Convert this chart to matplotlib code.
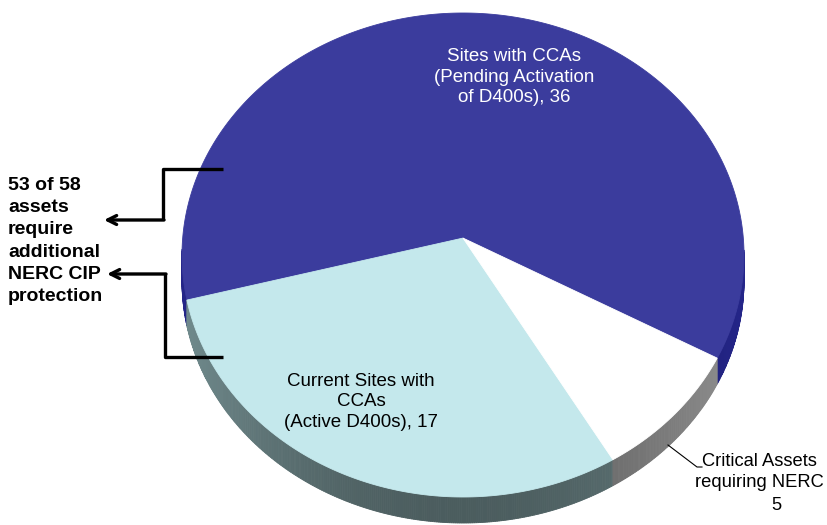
import numpy as np
import matplotlib
matplotlib.use("Agg")
import matplotlib.pyplot as plt
from matplotlib.patches import Polygon
import matplotlib.colors as mcolors

# ---- data ----
values = [36, 17, 5]
labels = ["Sites with CCAs\n(Pending Activation\nof D400s)",
          "Current Sites with\nCCAs\n(Active D400s)",
          "Critical Assets\nrequiring NERC"]
colors = ["#3b3c9d", "#c4e8ec", "#ffffff"]
side_colors = ["#1e1f72", "#5e7476", "#7a7a7a"]
callout_text = "53 of 58\nassets\nrequire\nadditional\nNERC CIP\nprotection"

plt.rcParams['font.family'] = ['Liberation Sans', 'DejaVu Sans']

W, H = 828, 525
fig = plt.figure(figsize=(W / 100, H / 100), dpi=100)

# ---- pie axes (elliptical top face, slight perspective) ----
left, right, top, bottom = 182, 744, 13, 497
ax = fig.add_axes([left / W, 1 - bottom / H, (right - left) / W, (bottom - top) / H])
startangle = 331.2
persp = 0.07
thick = 26 / ((bottom - top) / 2)

def project(phi_deg):
    p = np.radians(phi_deg)
    x, y = np.cos(p), np.sin(p)
    d = 1 + persp * y
    u, v = x / d, y / d
    return u * np.sqrt(1 - persp ** 2), v * (1 - persp ** 2) + persp

apex = (0.0, persp)
total = float(sum(values))
edges = startangle + 360.0 * np.concatenate([[0], np.cumsum(values)]) / total

def shade(c, t):
    r, g, b = mcolors.to_rgb(c)
    f = 1.0 + 0.2 * np.cos(np.radians(2 * (t - 180)))
    return tuple(min(1, x * f) for x in (r, g, b))

# side band
for i in range(len(values)):
    phis = np.linspace(edges[i], edges[i + 1], int((edges[i + 1] - edges[i]) / 0.4) + 2)
    U, V = project(phis)
    for j in range(len(phis) - 1):
        if min(V[j], V[j + 1]) > 0.02:
            continue
        pts = [(U[j], V[j]), (U[j + 1], V[j + 1]),
               (U[j + 1], V[j + 1] - thick), (U[j], V[j] - thick)]
        t = np.degrees(np.arctan2((V[j] + V[j + 1]) / 2, (U[j] + U[j + 1]) / 2)) % 360
        col = shade(side_colors[i], t)
        ax.add_patch(Polygon(pts, closed=True, facecolor=col, edgecolor=col,
                             lw=0.6, clip_on=False, zorder=1))

# top face wedges
for i in range(len(values)):
    phis = np.linspace(edges[i], edges[i + 1], int((edges[i + 1] - edges[i]) / 0.5) + 2)
    U, V = project(phis)
    pts = [apex] + list(zip(U, V))
    ax.add_patch(Polygon(pts, closed=True, facecolor=colors[i], edgecolor=colors[i],
                         lw=0.6, clip_on=False, zorder=2))

ax.set_xlim(-1, 1)
ax.set_ylim(-1, 1)
ax.axis('off')

# ---- overlay for annotations ----
ov = fig.add_axes([0, 0, 1, 1])
ov.set_xlim(0, W)
ov.set_ylim(H, 0)
ov.axis('off')
ov.patch.set_alpha(0)

ov.text(514, 77, f"{labels[0]}, {values[0]}", color='white', ha='center', va='center',
        fontsize=13.5, linespacing=1.26)
ov.text(361, 402, f"{labels[1]}, {values[1]}", color='black', ha='center', va='center',
        fontsize=13.5, linespacing=1.26)
ov.text(759, 472, labels[2], color='black', ha='center', va='center',
        fontsize=13.2, linespacing=1.25)
ov.text(776, 505, f"{values[2]}", color='black', ha='center', va='center', fontsize=13.2)
ov.plot([668, 697, 702], [445, 467, 467], color='black', lw=0.8)

ov.text(8, 241, callout_text, color='black', ha='left', va='center', fontsize=14,
        fontweight='bold', linespacing=1.4)

lw = 2.4
ov.plot([223, 163, 163], [169, 169, 220], color='black', lw=lw, solid_capstyle='butt')
ov.annotate('', xy=(104, 220), xytext=(164, 220),
            arrowprops=dict(arrowstyle='->', lw=lw, color='black', mutation_scale=16,
                            shrinkA=0, shrinkB=0))
ov.plot([223, 165, 165], [357, 357, 274], color='black', lw=lw, solid_capstyle='butt')
ov.annotate('', xy=(107, 274), xytext=(166, 274),
            arrowprops=dict(arrowstyle='->', lw=lw, color='black', mutation_scale=16,
                            shrinkA=0, shrinkB=0))

fig.savefig("out.png", dpi=100)
